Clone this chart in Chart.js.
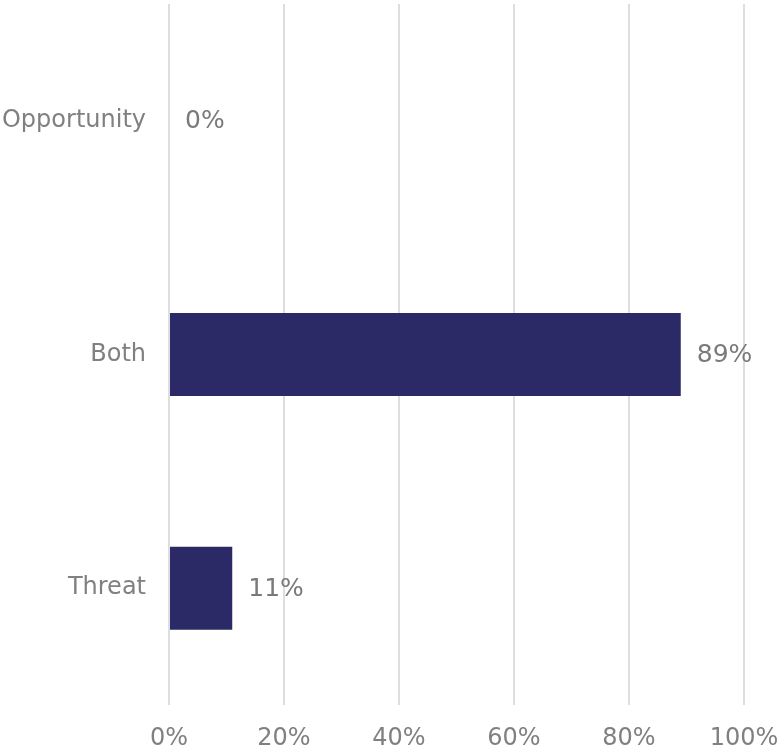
<!DOCTYPE html>
<html>
<head>
<meta charset="utf-8">
<script src="https://cdn.jsdelivr.net/npm/chart.js@4/dist/chart.umd.min.js"></script>
<style>
  html, body { margin: 0; padding: 0; background: #fff; }
  #wrap { width: 783px; height: 752px; }
</style>
</head>
<body>
<div id="wrap"><canvas id="grafico"></canvas></div>
<script>
  const categorias = ['Opportunity', 'Both', 'Threat'];
  const valores = [0, 89, 11];
  const ticksX = [0, 20, 40, 60, 80, 100];

  const corBarra = '#2b2966';
  const corTexto = '#808080';

  // rótulos de valor ao lado de cada barra
  const rotulos = {
    id: 'rotulos',
    afterDatasetsDraw(chart) {
      const { ctx, scales } = chart;
      const meta = chart.getDatasetMeta(0);
      ctx.save();
      ctx.font = '25px "DejaVu Sans"';
      ctx.fillStyle = '#7a7a7a';
      ctx.textAlign = 'left';
      ctx.textBaseline = 'middle';
      meta.data.forEach((barra, i) => {
        const x = scales.x.getPixelForValue(valores[i]) + 16;
        ctx.fillText(valores[i] + '%', x, barra.y + 1);
      });
      ctx.restore();
    }
  };

  const config = {
    type: 'bar',
    data: {
      labels: categorias,
      datasets: [{
        data: valores,
        backgroundColor: corBarra,
        borderWidth: 0,
        categoryPercentage: 1,
        barPercentage: 0.355
      }]
    },
    options: {
      indexAxis: 'y',
      responsive: true,
      maintainAspectRatio: false,
      animation: false,
      layout: { padding: { top: 4, right: 39, left: 0, bottom: 0 } },
      plugins: {
        legend: { display: false },
        tooltip: { enabled: false }
      },
      scales: {
        x: {
          min: 0,
          max: 100,
          afterBuildTicks: (s) => { s.ticks = ticksX.map(v => ({ value: v })); },
          afterFit: (s) => {
            s.height = 47;
            s.paddingLeft = 0;
            s.paddingRight = 0;
          },
          grid: { color: '#dedede', lineWidth: 2, drawTicks: false },
          border: { display: false },
          ticks: {
            padding: 19,
            maxRotation: 0,
            color: corTexto,
            font: { family: 'DejaVu Sans', size: 24 },
            callback: v => v + '%'
          }
        },
        y: {
          afterFit: (s) => {
            s.width = 169;
            s.paddingTop = 0;
            s.paddingBottom = 0;
          },
          grid: { display: false, drawTicks: false },
          border: { display: false },
          ticks: {
            padding: 23,
            color: corTexto,
            font: { family: 'DejaVu Sans', size: 24 }
          }
        }
      }
    },
    plugins: [rotulos]
  };

  const ctx = document.getElementById('grafico').getContext('2d');
  new Chart(ctx, config);
</script>
</body>
</html>
